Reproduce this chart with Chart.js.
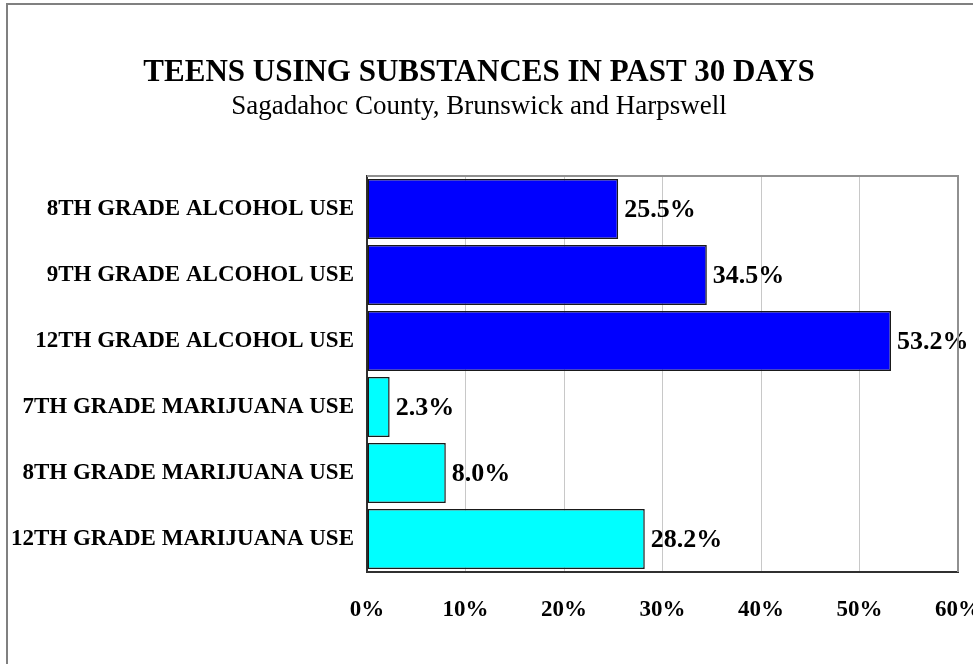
<!DOCTYPE html>
<html>
<head>
<meta charset="utf-8">
<script src="https://cdn.jsdelivr.net/npm/chart.js@4"></script>
<style>
  html, body { margin: 0; padding: 0; background: #fff; }
  #wrap { width: 973px; height: 664px; position: relative; }
</style>
</head>
<body>
<div id="wrap"><canvas id="chart" width="973" height="664"></canvas></div>
<script>
const categories = [
  '8TH GRADE ALCOHOL USE',
  '9TH GRADE ALCOHOL USE',
  '12TH GRADE ALCOHOL USE',
  '7TH GRADE MARIJUANA USE',
  '8TH GRADE MARIJUANA USE',
  '12TH GRADE MARIJUANA USE'
]
const values = [25.5, 34.5, 53.2, 2.3, 8.0, 28.2]
const barColors = ['#0000ff', '#0000ff', '#0000ff', '#00ffff', '#00ffff', '#00ffff']
const xTicks = [0, 10, 20, 30, 40, 50, 60]

const serif = '"Liberation Serif", "Times New Roman", serif'

// outer frame and plot frame (top/right edges)
const framePlugin = {
  id: 'frame',
  beforeDraw(chart) {
    const ctx = chart.ctx
    ctx.save()
    ctx.strokeStyle = '#808080'
    ctx.lineWidth = 2
    ctx.strokeRect(7, 4, 1000, 700)
    ctx.restore()
  },
  afterDraw(chart) {
    const a = chart.chartArea
    const ctx = chart.ctx
    ctx.save()
    ctx.strokeStyle = '#909090'
    ctx.lineWidth = 2
    ctx.beginPath()
    ctx.moveTo(a.left, a.top)
    ctx.lineTo(a.right, a.top)
    ctx.lineTo(a.right, a.bottom)
    ctx.stroke()
    ctx.restore()
  }
}

const valueLabels = {
  id: 'valueLabels',
  afterDatasetsDraw(chart) {
    const ctx = chart.ctx
    const meta = chart.getDatasetMeta(0)
    ctx.save()
    ctx.font = 'bold 26px ' + serif
    ctx.fillStyle = '#000'
    ctx.textBaseline = 'middle'
    meta.data.forEach((bar, i) => {
      ctx.fillText(values[i].toFixed(1) + '%', bar.x + 6, bar.y + 1)
    })
    ctx.restore()
  }
}

new Chart(document.getElementById('chart'), {
  type: 'bar',
  data: {
    labels: categories,
    datasets: [{
      data: values,
      backgroundColor: barColors,
      borderColor: '#1a1a1a',
      borderWidth: 1.5,
      borderSkipped: false,
      barPercentage: 0.91,
      categoryPercentage: 1
    }]
  },
  options: {
    indexAxis: 'y',
    responsive: false,
    animation: false,
    layout: { padding: { left: 0, right: 15, top: 0, bottom: 0 } },
    plugins: {
      legend: { display: false },
      tooltip: { enabled: false },
      title: {
        display: true,
        text: 'TEENS USING SUBSTANCES IN PAST 30 DAYS',
        color: '#000',
        font: { family: serif, size: 31, weight: 'bold', lineHeight: 1 },
        padding: { top: 57, bottom: 0 }
      },
      subtitle: {
        display: true,
        text: 'Sagadahoc County, Brunswick and Harpswell',
        color: '#000',
        font: { family: serif, size: 27, lineHeight: 1 },
        padding: { top: 5, bottom: 56 }
      }
    },
    scales: {
      x: {
        min: 0,
        max: 60,
        afterBuildTicks(scale) {
          scale.ticks = xTicks.map(v => ({ value: v }))
        },
        afterFit(scale) {
          scale.height = 92
          scale.paddingLeft = 0
          scale.paddingRight = 0
        },
        ticks: {
          color: '#000',
          padding: 24,
          maxRotation: 0,
          font: { family: serif, size: 23, weight: 'bold', lineHeight: 1.2 },
          callback: v => v + '%'
        },
        grid: { color: '#c8c8c8', lineWidth: 1, drawTicks: false },
        border: { display: true, color: '#303030', width: 2 }
      },
      y: {
        afterFit(scale) {
          scale.width = 367
        },
        ticks: {
          color: '#000',
          padding: 13,
          font: { family: serif, size: 23, weight: 'bold' }
        },
        grid: { display: false, drawTicks: false },
        border: { display: true, color: '#303030', width: 2 }
      }
    }
  },
  plugins: [framePlugin, valueLabels]
})
</script>
</body>
</html>
